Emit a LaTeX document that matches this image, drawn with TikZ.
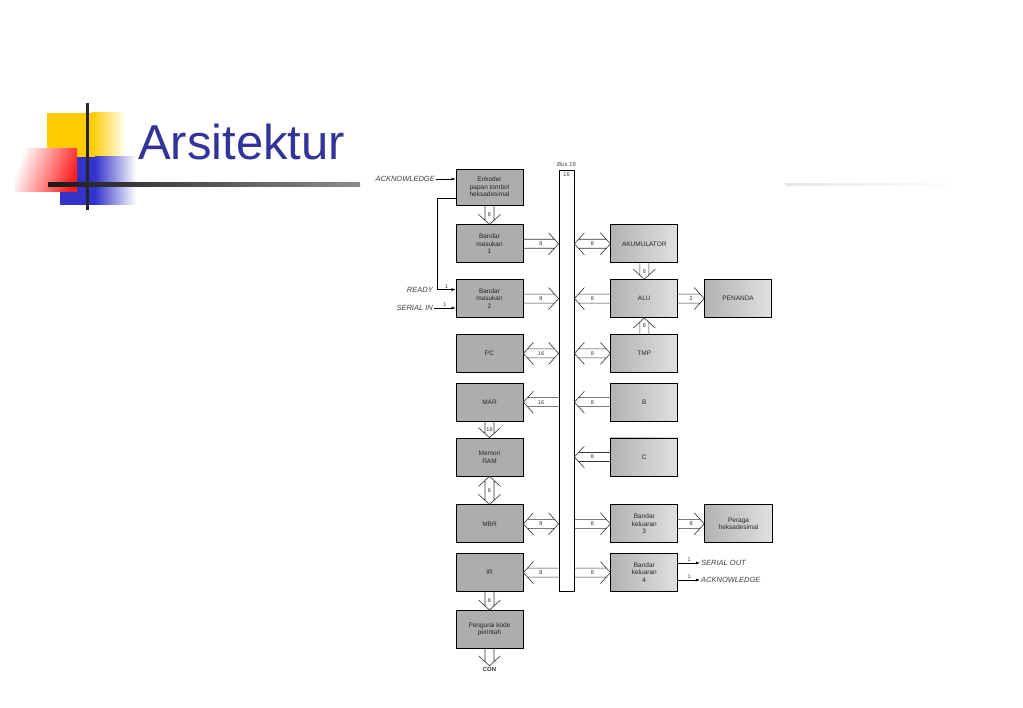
\documentclass[tikz,border=0pt]{standalone}
\usepackage{fontspec}
\setmainfont{Liberation Sans}
\usetikzlibrary{positioning,calc,arrows.meta,decorations.pathreplacing}
\definecolor{titleblue}{HTML}{333399}
\definecolor{decoyellow}{HTML}{FFCC00}
\definecolor{decored}{HTML}{FF1E1E}
\definecolor{decoblue}{HTML}{3333CC}
\def\bsA{\tikzinputsegmentfirst}
\def\bsB{\tikzinputsegmentlast}
\tikzset{
  busone/.style={decorate,decoration={show path construction,lineto code={
    \draw[busline] ($(\bsA)!4.5pt!90:(\bsB)$) -- ($(\bsB)!4pt!(\bsA)!4.5pt!-90:(\bsA)$)
      ($(\bsA)!4.5pt!-90:(\bsB)$) -- ($(\bsB)!4pt!(\bsA)!4.5pt!90:(\bsA)$)
      ($(\bsB)!10pt!(\bsA)!11pt!90:(\bsA)$) -- (\bsB) -- ($(\bsB)!10pt!(\bsA)!11pt!-90:(\bsA)$);}}},
  bustwo/.style={decorate,decoration={show path construction,lineto code={
    \draw[busline] ($(\bsA)!4pt!(\bsB)!4.5pt!90:(\bsB)$) -- ($(\bsB)!4pt!(\bsA)!4.5pt!-90:(\bsA)$)
      ($(\bsA)!4pt!(\bsB)!4.5pt!-90:(\bsB)$) -- ($(\bsB)!4pt!(\bsA)!4.5pt!90:(\bsA)$)
      ($(\bsB)!10pt!(\bsA)!11pt!90:(\bsA)$) -- (\bsB) -- ($(\bsB)!10pt!(\bsA)!11pt!-90:(\bsA)$)
      ($(\bsA)!10pt!(\bsB)!11pt!90:(\bsB)$) -- (\bsA) -- ($(\bsA)!10pt!(\bsB)!11pt!-90:(\bsB)$);}}},
}

\begin{document}
\begin{tikzpicture}[x=1pt,y=-1pt,
  box/.style={draw,line width=0.8pt,fill=black!32,minimum width=67pt,minimum height=38pt,inner sep=1pt,align=center,font=\fontsize{6.5}{7.5}\selectfont,text=black!85},
  rbox/.style={box,left color=black!30,right color=black!12},
  busline/.style={line width=0.6pt,black!80},
  sig/.style={draw,line width=0.6pt,-{Latex[length=4pt,width=3pt]}},
  lbl/.style={font=\fontsize{5.5}{6}\selectfont,inner sep=1pt,text=black!80},
  sigtext/.style={font=\fontsize{7.5}{8}\itshape,inner sep=1pt,text=black!75}]
  \useasboundingbox (0,0) rectangle (1023,708);
  \fill[white] (0,0) rectangle (1023,708);
  % title decoration
  \fill[decoyellow] (47,113) rectangle (92,172);
  \shade[left color=decoyellow,right color=white] (92,113) rectangle (126,172);
  \fill[decoblue] (60,157) rectangle (95,205);
  \shade[left color=decoblue,right color=white] (95,157) rectangle (136,205);
  \shade[left color=white,right color=decored,shading angle=70] (15,149) rectangle (77,192);
  \fill[black!85] (85.5,103) rectangle (88.5,210);
  \shade[left color=black!90,right color=black!45] (48,183) rectangle (360,187);
  \shade[left color=black!10,right color=white] (785,184) rectangle (960,186);
  \node[anchor=base west,font=\fontsize{49}{49}\selectfont,text=titleblue,inner sep=0] (title) at (138,160) {Arsitektur};
  % left column
  \node[box,minimum height=36pt] (enk) at (489.5,187) {Enkoder\\papan tombol\\heksadesimal};
  \node[box,below=19pt of enk] (bm1) {Bandar\\masukan\\1};
  \node[box,below=16pt of bm1] (bm2) {Bandar\\masukan\\2};
  \node[box,below=16pt of bm2] (pc) {PC};
  \node[box,below=10pt of pc] (mar) {MAR};
  \node[box,below=16pt of mar] (mem) {Memori\\RAM};
  \node[box,below=28pt of mem] (mbr) {MBR};
  \node[box,below=10pt of mbr] (ir) {IR};
  \node[box,below=18pt of ir] (dec) {Pengurai kode\\perintah};
  \node[lbl,font=\fontsize{6}{7}\bfseries,below=17pt of dec] (con) {CON};
  % right column
  \node[rbox,right=87pt of bm1] (acc) {AKUMULATOR};
  \node[rbox,right=87pt of bm2] (alu) {ALU};
  \node[rbox,right=26pt of alu] (flag) {PENANDA};
  \node[rbox,right=87pt of pc] (tmp) {TMP};
  \node[rbox,right=87pt of mar] (regb) {B};
  \node[rbox,right=87pt of mem] (regc) {C};
  \node[rbox,right=87pt of mbr] (bk3) {Bandar\\keluaran\\3};
  \node[rbox,right=26pt of bk3,minimum width=68pt] (disp) {Peraga\\heksadesimal};
  \node[rbox,right=87pt of ir] (bk4) {Bandar\\keluaran\\4};
  % bus
  \node[draw,line width=0.8pt,fill=white,minimum width=15pt,minimum height=421pt,inner sep=0] (bus) at (566.5,380.5) {};
  \node[sigtext,font=\fontsize{6}{7}\itshape,above=2pt of bus.north] (busname) {Bus 16};
  \node[lbl,below=2pt of bus.north] (buswidth) {16};
  % bus connections
  \draw[busone] (bm1.east) -- node[lbl]{8} (bm1.east -| bus.west);
  \draw[busone] (bm2.east) -- node[lbl]{8} (bm2.east -| bus.west);
  \draw[bustwo] (pc.east) -- node[lbl]{16} (pc.east -| bus.west);
  \draw[busone] (mar.east -| bus.west) -- node[lbl]{16} (mar.east);
  \draw[bustwo] (mbr.east) -- node[lbl]{8} (mbr.east -| bus.west);
  \draw[busone] (ir.east -| bus.west) -- node[lbl]{8} (ir.east);
  \draw[bustwo] (acc.west) -- node[lbl]{8} (acc.west -| bus.east);
  \draw[busone] (alu.west) -- node[lbl]{8} (alu.west -| bus.east);
  \draw[bustwo] (tmp.west) -- node[lbl]{8} (tmp.west -| bus.east);
  \draw[busone] (regb.west) -- node[lbl]{8} (regb.west -| bus.east);
  \draw[busone] (regc.west) -- node[lbl]{8} (regc.west -| bus.east);
  \draw[busone] (bk3.west -| bus.east) -- node[lbl]{8} (bk3.west);
  \draw[busone] (bk4.west -| bus.east) -- node[lbl]{8} (bk4.west);
  \draw[busone] (alu.east) -- node[lbl]{2} (flag.west);
  \draw[busone] (bk3.east) -- node[lbl]{8} (disp.west);
  \draw[busone] (enk.south) -- node[lbl]{8} (bm1.north);
  \draw[busone] (acc.south) -- node[lbl]{8} (alu.north);
  \draw[busone] (tmp.north) -- node[lbl]{8} (alu.south);
  \draw[busone] (mar.south) -- node[lbl]{16} (mem.north);
  \draw[bustwo] (mem.south) -- node[lbl]{8} (mbr.north);
  \draw[busone] (ir.south) -- node[lbl]{8} (dec.north);
  \draw[busone] (dec.south) -- (con.north);
  % single signals
  \node[sigtext,anchor=east] (ackin) at (436,179) {ACKNOWLEDGE};
  \node[sigtext,anchor=east] (ready) at (434,290) {READY};
  \node[sigtext,anchor=east] (serin) at (434,308) {SERIAL IN};
  \node[sigtext,anchor=west] (serout) at (700,563) {SERIAL OUT};
  \node[sigtext,anchor=west] (ackout) at (700,580) {ACKNOWLEDGE};
  \draw[sig] (ackin.east) -- (ackin.east -| enk.west);
  \draw[sig] ([yshift=-11pt]enk.west) -- ++(-18,0) |- node[lbl,pos=.75,above]{1} ([yshift=9pt]bm2.west);
  \draw[sig] (serin.east) -- node[lbl,above]{1} (serin.east -| bm2.west);
  \draw[sig] (bk4.east |- serout) -- node[lbl,above]{1} (serout.west);
  \draw[sig] (bk4.east |- ackout) -- node[lbl,above]{1} (ackout.west);
\end{tikzpicture}
\end{document}
